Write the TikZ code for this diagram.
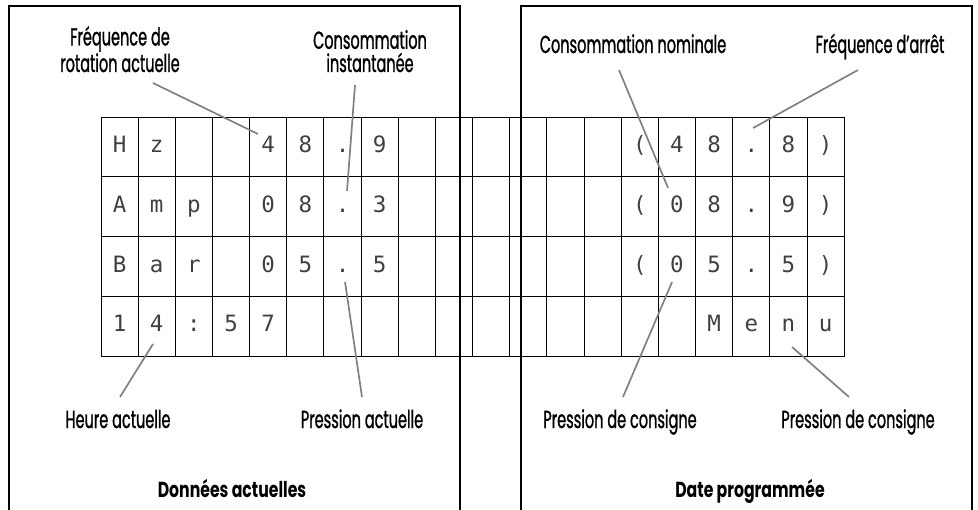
\documentclass[tikz,border=0pt]{standalone}
\usepackage{fontspec}
\setmainfont{Poppins}[FakeStretch=0.59,FakeBold=1]
\newfontfamily\titlefont{Poppins}[FakeStretch=0.72]
\newfontfamily\lcdfont{DejaVu Sans Mono}

\begin{document}
\begin{tikzpicture}[font=\fontsize{17.5}{16.5}\selectfont,
 panel/.style={draw,line width=1.6pt,minimum width=11.275cm,minimum height=13.3cm,inner sep=0},
 cell/.style={draw,line width=0.7pt,minimum width=0.929cm,minimum height=1.494cm,inner sep=0,
 font=\lcdfont\fontsize{16}{16}\selectfont,text=black!75,text height=1.5ex,text depth=0pt},
 lbl/.style={align=center,inner sep=1pt,anchor=base},
 ttl/.style={anchor=base,font=\titlefont\bfseries\fontsize{15.5}{16}\selectfont},
 lead/.style={line width=1.2pt,black!50}]
\useasboundingbox (0,0) rectangle (24.45,12.725);
% LCD grid, 4 lines x 20 characters
\foreach \ch [count=\j] in {H,z,{},{},4,8,.,9,{},{},{},{},{},{},{(},4,8,.,8,{)}}
 \node[cell] (c-1-\j) at ({2.525+(\j-0.5)*0.929},9.053) {\ch};
\foreach \ch [count=\j] in {A,m,p,{},0,8,.,3,{},{},{},{},{},{},{(},0,8,.,9,{)}}
 \node[cell] (c-2-\j) at ({2.525+(\j-0.5)*0.929},7.559) {\ch};
\foreach \ch [count=\j] in {B,a,r,{},0,5,.,5,{},{},{},{},{},{},{(},0,5,.,5,{)}}
 \node[cell] (c-3-\j) at ({2.525+(\j-0.5)*0.929},6.065) {\ch};
\foreach \ch [count=\j] in {1,4,:,5,7,{},{},{},{},{},{},{},{},{},{},{},M,e,n,u}
 \node[cell] (c-4-\j) at ({2.525+(\j-0.5)*0.929},4.571) {\ch};
% the two panels
\node[panel] (left) at (5.8625,5.925) {};
\node[panel] (right) at (18.6625,5.925) {};
\node[lbl] (fr) at (3.0,10.925) {Fréquence de\\rotation actuelle};
\node[lbl] (ci) at (9.25,10.925) {Consommation\\instantanée};
\node[lbl] (cn) at (15.825,11.4) {Consommation nominale};
\node[lbl] (fa) at (22.0,11.4) {Fréquence d’arrêt};
\node[lbl] (ha) at (2.95,2.025) {Heure actuelle};
\node[lbl] (pa) at (9.05,2.025) {Pression actuelle};
\node[lbl] (pc) at (15.5,2.025) {Pression de consigne};
\node[lbl] (pm) at (21.45,2.025) {Pression de consigne};
\node[ttl] (da) at (5.8,0.3) {Données actuelles};
\node[ttl] (dp) at (18.75,0.3) {Date programmée};
\draw[lead] ([shift={(0.825,-0.275)}]fr.base) -- ([shift={(-0.256,0.322)}]c-1-5.center);
\draw[lead] ([shift={(-0.375,-0.325)}]ci.base) -- ([shift={(0.112,0.391)}]c-2-7.center);
\draw[lead] ([shift={(-0.35,-0.425)}]cn.base) -- ([shift={(-0.223,0.466)}]c-2-16.center);
\draw[lead] ([shift={(-0.55,-0.425)}]fa.base) -- ([shift={(0.044,0.472)}]c-1-18.center);
\draw[lead] ([shift={(0.05,0.775)}]ha.base) -- ([shift={(-0.094,-0.446)}]c-4-2.center);
\draw[lead] ([shift={(0,0.775)}]pa.base) -- ([shift={(0.062,-0.39)}]c-3-7.center);
\draw[lead] ([shift={(0.075,0.775)}]pc.base) -- ([shift={(-0.123,-0.39)}]c-3-16.center);
\draw[lead] ([shift={(-0.225,0.775)}]pm.base) -- ([shift={(0.09,-0.521)}]c-4-19.center);
\end{tikzpicture}
\end{document}
